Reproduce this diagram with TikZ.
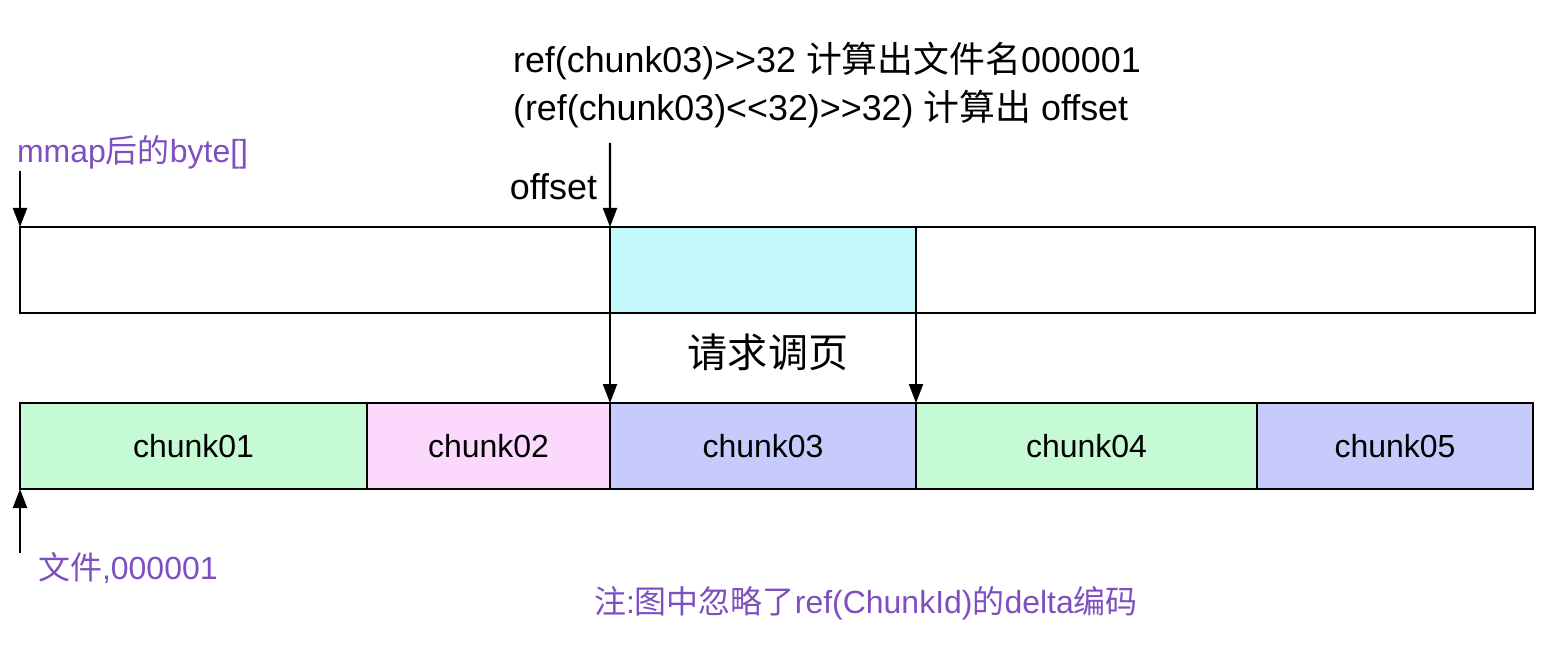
\documentclass[tikz,border=0pt]{standalone}
\usepackage{fontspec}
\setmainfont{Liberation Sans}[Ligatures=TeXOff]
\newfontfamily\cjk{Noto Sans CJK SC}
\usetikzlibrary{positioning,arrows.meta}
\definecolor{mapcyan}{HTML}{C4F9FC}
\definecolor{chunkgreen}{HTML}{C6FAD4}
\definecolor{chunkpink}{HTML}{FDD8FD}
\definecolor{chunkblue}{HTML}{C6CBFB}
\definecolor{notepurple}{HTML}{7F4FBF}

\begin{document}
\begin{tikzpicture}[>={Triangle[width=1.4mm,length=1.9mm]},line width=0.6pt,
		seg/.style={draw,rectangle,minimum height=8.6mm,inner sep=0pt,outer sep=0pt,
			font=\fontsize{9.1}{11}\selectfont},
		note/.style={inner sep=0pt,text=notepurple,font=\fontsize{9.1}{11}\selectfont},
		label/.style={inner sep=0pt,font=\fontsize{10.2}{12}\selectfont}]

		\useasboundingbox (0,0) rectangle (15.6,-6.5);

		% the mmap byte[]
		\node[seg,minimum width=59mm,anchor=north west] (b1) at (0.2,-2.27) {};
		\node[seg,minimum width=30.6mm,fill=mapcyan] (b2) [right=0pt of b1] {};
		\node[seg,minimum width=61.9mm] (b3) [right=0pt of b2] {};

		% the file
		\node[seg,minimum width=34.7mm,fill=chunkgreen,anchor=north west] (c1) at (0.2,-4.03) {chunk01};
		\node[seg,minimum width=24.3mm,fill=chunkpink] (c2) [right=0pt of c1] {chunk02};
		\node[seg,minimum width=30.6mm,fill=chunkblue] (c3) [right=0pt of c2] {chunk03};
		\node[seg,minimum width=34.1mm,fill=chunkgreen] (c4) [right=0pt of c3] {chunk04};
		\node[seg,minimum width=27.6mm,fill=chunkblue] (c5) [right=0pt of c4] {chunk05};

		\node[label,anchor=west] (ref1) at (5.12,-0.61) {ref(chunk03)>>32 {\cjk 计算出文件名}000001};
		\node[label,anchor=west] (ref2) at (5.12,-1.09) {(ref(chunk03)<<32)>>32) {\cjk 计算出} offset};
		\node[label,anchor=east] (off) at (5.98,-1.87) {offset};
		\node[note,anchor=west] (mmap) at (0.16,-1.52) {mmap{\cjk 后的}byte[]};
		\node[inner sep=0pt,font=\fontsize{11.4}{13}\selectfont\cjk] (page) at (7.68,-3.52) {请求调页};
		\node[note,anchor=west] (file) at (0.37,-5.68) {{\cjk 文件},000001};
		\node[note,anchor=west] (hint) at (5.93,-6.03) {{\cjk 注}:{\cjk 图中忽略了}ref(ChunkId){\cjk 的}delta{\cjk 编码}};

		\coordinate (mmaptop) at (0.2,-1.71);
		\coordinate (offtop) at (6.1,-1.43);
		\coordinate (filebot) at (0.2,-5.53);

		\draw[->] (mmaptop) -- (b1.north west);
		\draw[->] (offtop) -- (b2.north west);
		\draw[->] (b2.south west) -- (c3.north west);
		\draw[->] (b2.south east) -- (c3.north east);
		\draw[->] (filebot) -- (c1.south west);
	\end{tikzpicture}
\end{document}
